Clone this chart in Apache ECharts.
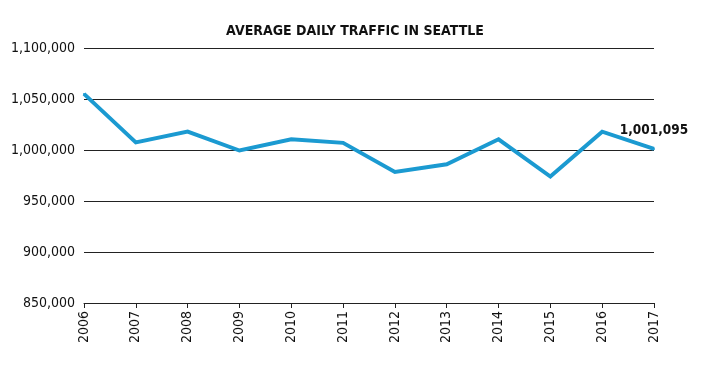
<!DOCTYPE html>
<html>
<head>
<meta charset="utf-8">
<script src="https://cdn.jsdelivr.net/npm/echarts@6/dist/echarts.min.js"></script>
<style>
html,body{margin:0;padding:0;background:#fff;}
#chart{width:711px;height:370px;}
</style>
</head>
<body>
<div id="chart"></div>
<script>
var titleText = 'AVERAGE DAILY TRAFFIC IN SEATTLE';
var years = ['2006','2007','2008','2009','2010','2011','2012','2013','2014','2015','2016','2017'];
var traffic = [1055000, 1007500, 1018000, 999500, 1010500, 1007000, 978500, 986000, 1010500, 974000, 1018000, 1001095];
var yMin = 850000, yMax = 1100000, yStep = 50000;

var FONT = '"Liberation Sans Narrow", "DejaVu Sans Condensed", "Roboto", sans-serif';
function fmt(v){ return v.toLocaleString('en-US'); }

var chart = echarts.init(document.getElementById('chart'), null, {renderer:'canvas'});
var lastIdx = traffic.length - 1;
chart.setOption({
  animation: false,
  backgroundColor: '#fff',
  title: {
    text: titleText,
    left: 350, top: 19, textAlign: 'center',
    textStyle: {fontFamily: FONT, fontSize: 14, fontWeight: 'bold', color: '#111'}
  },
  grid: {left: 84, right: 57, top: 48, bottom: 67, containLabel: false},
  xAxis: {
    type: 'category',
    data: years,
    boundaryGap: false,
    axisLine: {show: true, lineStyle: {color: '#222', width: 1}},
    axisTick: {show: true, length: 5, alignWithLabel: true, lineStyle: {color: '#222'}},
    axisLabel: {rotate: 90, margin: 8, fontFamily: FONT, fontSize: 14, color: '#111', interval: 0},
    splitLine: {show: false}
  },
  yAxis: {
    type: 'value',
    min: yMin, max: yMax, interval: yStep,
    axisLine: {show: false},
    axisTick: {show: false},
    axisLabel: {margin: 9, fontFamily: FONT, fontSize: 14, color: '#111', formatter: fmt},
    splitLine: {show: true, lineStyle: {color: '#222', width: 1}}
  },
  series: [{
    type: 'line',
    data: traffic.map(function(v, i){
      if (i === lastIdx) {
        return {value: v, label: {show: true, position: 'top', distance: 10,
          formatter: function(p){ return fmt(p.value); },
          fontFamily: FONT, fontSize: 13.5, fontWeight: 'bold', color: '#111'}};
      }
      return v;
    }),
    showSymbol: true,
    symbol: 'circle',
    symbolSize: 2,
    lineStyle: {color: '#1b9ad1', width: 4, join: 'miter'},
    itemStyle: {color: '#1b9ad1'}
  }]
});
</script>
</body>
</html>
